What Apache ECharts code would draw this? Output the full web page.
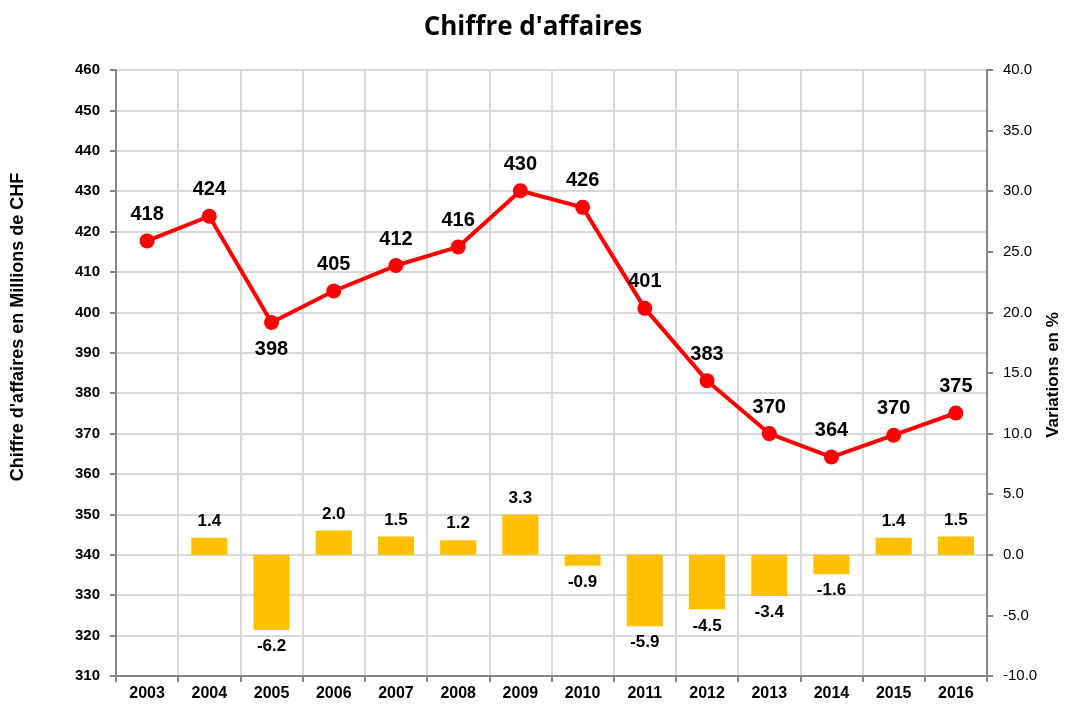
<!DOCTYPE html>
<html>
<head>
<meta charset="utf-8">
<script src="https://cdn.jsdelivr.net/npm/echarts@6/dist/echarts.min.js"></script>
<style>html,body{margin:0;padding:0;background:#fff}#c{width:1066px;height:706px}</style>
</head>
<body>
<div id="c"></div>
<script>
const years = ['2003','2004','2005','2006','2007','2008','2009','2010','2011','2012','2013','2014','2015','2016'];
const revenue = [417.7, 423.8, 397.5, 405.3, 411.6, 416.2, 430.1, 426.0, 401.0, 383.1, 370.0, 364.2, 369.6, 375.1];
const variation = [null, 1.4, -6.2, 2.0, 1.5, 1.2, 3.3, -0.9, -5.9, -4.5, -3.4, -1.6, 1.4, 1.5];
const belowLabels = ['2005'];

const chart = echarts.init(document.getElementById('c'));
const FF = 'Liberation Sans, Arial, sans-serif';
chart.setOption({
  animation: false,
  title: {
    text: "Chiffre d'affaires", left: 'center', top: 10,
    textStyle: {fontFamily: 'Liberation Sans Narrow, Open Sans, sans-serif', fontWeight: 'bold', fontSize: 26, color: '#000'}
  },
  grid: {left: 116, right: 79, top: 70, bottom: 30, containLabel: false},
  xAxis: {
    type: 'category', data: years, boundaryGap: true,
    axisLine: {onZero: false, lineStyle: {color: '#868686', width: 2}},
    axisTick: {show: true, length: 6, lineStyle: {color: '#868686', width: 2}},
    axisLabel: {margin: 10, fontFamily: FF, fontSize: 16, fontWeight: 'bold', color: '#000'},
    splitLine: {show: true, lineStyle: {color: '#d9d9d9', width: 2}}
  },
  yAxis: [
    {
      type: 'value', min: 310, max: 460, interval: 10, position: 'left',
      axisLine: {show: true, lineStyle: {color: '#868686', width: 2}},
      axisTick: {show: true, length: 6, lineStyle: {color: '#868686', width: 2}},
      axisLabel: {margin: 16, fontFamily: FF, fontSize: 15, fontWeight: 'bold', color: '#000'},
      splitLine: {show: true, lineStyle: {color: '#d9d9d9', width: 2}}
    },
    {
      type: 'value', min: -10, max: 40, interval: 5, position: 'right',
      axisLine: {show: true, lineStyle: {color: '#868686', width: 2}},
      axisTick: {show: true, length: 6, lineStyle: {color: '#868686', width: 2}},
      axisLabel: {margin: 16, formatter: v => v.toFixed(1), fontFamily: FF, fontSize: 15, color: '#000'},
      splitLine: {show: false}
    }
  ],
  graphic: [
    {type: 'text', x: 18, y: 327, rotation: Math.PI/2,
     style: {text: "Chiffre d'affaires en Millions de CHF", font: 'bold 18px Liberation Sans, Arial, sans-serif', fill: '#000', align: 'center', verticalAlign: 'middle'}},
    {type: 'text', x: 1053, y: 375, rotation: Math.PI/2,
     style: {text: 'Variations en %', font: 'bold 17px Liberation Sans, Arial, sans-serif', fill: '#000', align: 'center', verticalAlign: 'middle'}}
  ],
  series: [
    {
      type: 'bar', yAxisIndex: 1, barWidth: '58%',
      itemStyle: {color: '#FFC000'},
      data: variation.map(v => v === null ? null : ({
        value: v,
        label: {position: v < 0 ? 'bottom' : 'top'}
      })),
      label: {show: true, distance: 8, formatter: p => p.value.toFixed(1),
        fontFamily: FF, fontWeight: 'bold', fontSize: 17, color: '#000'},
      z: 2
    },
    {
      type: 'line', yAxisIndex: 0,
      data: revenue.map((v, i) => ({value: v, label: {position: belowLabels.includes(years[i]) ? 'bottom' : 'top'}})),
      symbol: 'circle', symbolSize: 15,
      lineStyle: {color: '#FF0000', width: 4},
      itemStyle: {color: '#FF0000'},
      label: {show: true, distance: 9, formatter: p => Math.round(p.value),
        fontFamily: FF, fontWeight: 'bold', fontSize: 20, color: '#000'},
      z: 5
    }
  ]
});
</script>
</body>
</html>
